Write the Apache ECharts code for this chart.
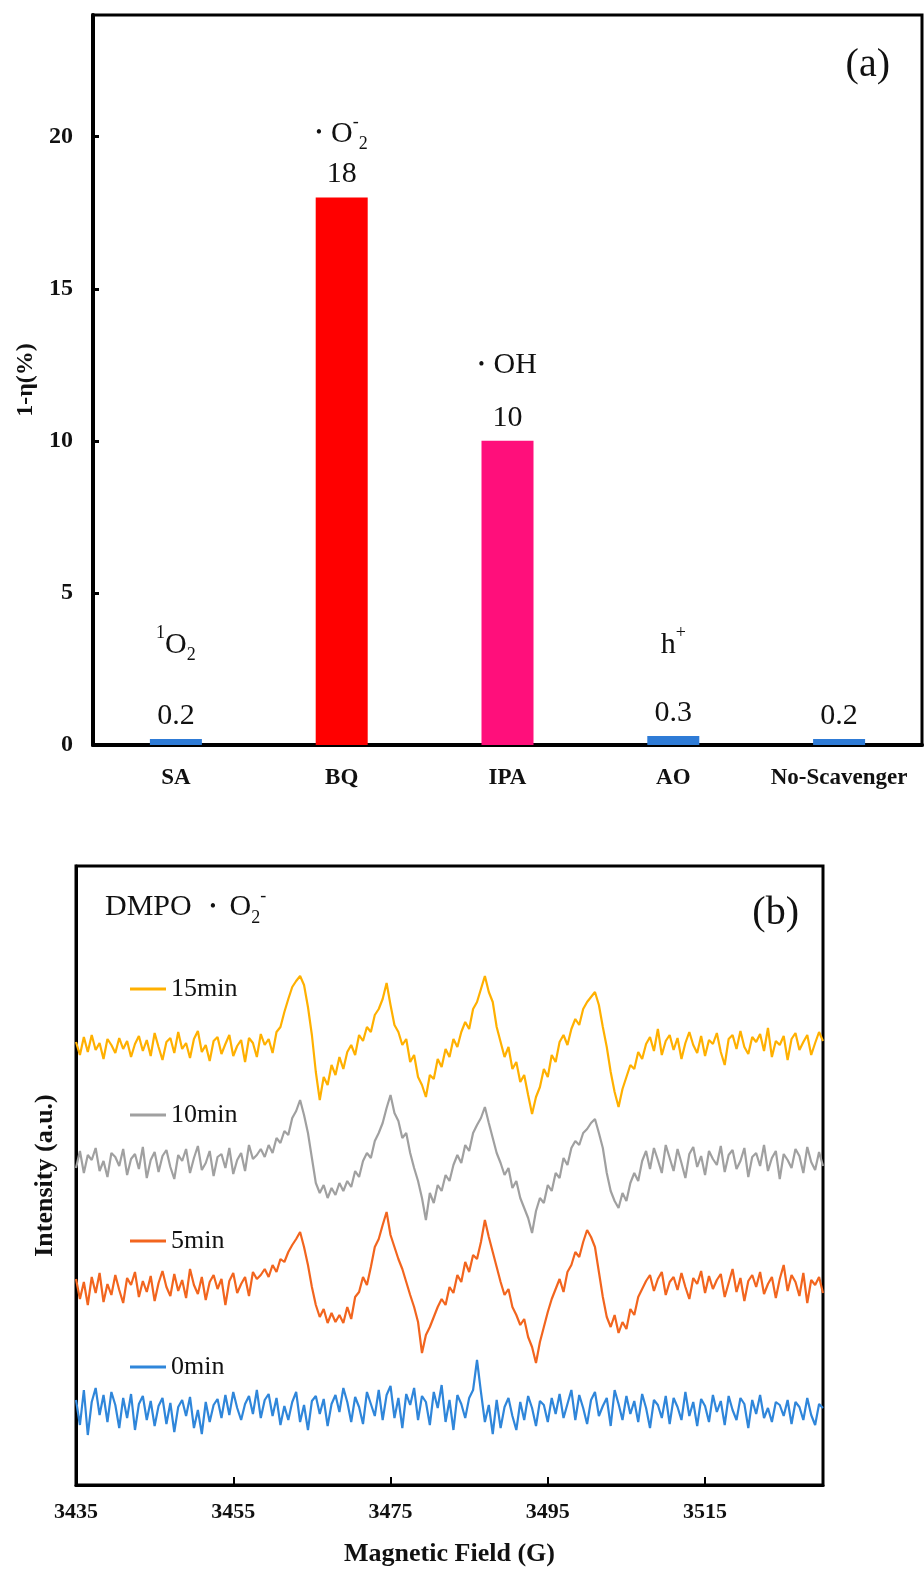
<!DOCTYPE html>
<html>
<head>
<meta charset="utf-8">
<title>Scavenger test and DMPO EPR</title>
<script src="https://cdn.jsdelivr.net/npm/echarts@6/dist/echarts.min.js"></script>
<style>
    html, body { margin: 0; padding: 0; background: #fff; }
    #chart { width: 924px; height: 1572px; }
</style>
</head>
<body>
<div id="chart"></div>
<script>
// (a) trapping experiment
const categories = ['SA', 'BQ', 'IPA', 'AO', 'No-Scavenger'];
const scavengerValues = [0.2, 18, 10, 0.3, 0.2];
const barColors = ['#2E7BD6', '#FF0000', '#FF0F7B', '#2E7BD6', '#2E7BD6'];
const speciesLabels = ['{sup|1}{m|O}{sub|2}', '{dot|•  }{m|O}{sup|-}{sub|2}', '{dot|•  }{m|OH}', '{m|h}{sup|+}'];
const speciesLabelY = [3.3, 20.1, 12.5, 3.3];
const yTicksA = [0, 5, 10, 15, 20];

// (b) EPR spectra, field axis in G (0.5 G step), intensities in arbitrary units
const fieldStart = 3435;
const fieldStep = 0.5;
const fieldTicks = [3435, 3455, 3475, 3495, 3515];
const traceNames = ['15min', '10min', '5min', '0min'];
const traceColors = ['#FFB000', '#A0A0A0', '#F2651E', '#2F86DA'];
const traceOffsets = [438, 322, 198, 75];

const trace15 = [
    5, -8, 10, -5, 12, -3, 4, -12, 8, 2,
    -6, 9, -2, 6, -10, 3, 11, -4, 7, -9,
    14, 0, -13, 5, 9, -6, 15, -2, 4, -11,
    8, 16, -5, 2, -14, 6, 10, -7, 3, 12,
    -9, 1, 7, -15, 9, 4, -10, 13,
    2, 8, -6, 15, 20, 35, 48, 60, 66, 71, 62, 40, 12, -25, -53, -30, -38, -18, -28, -10, -22, -5,
    2, -8, 12, 6, 20, 15, 32, 38, 48, 64, 42, 22, 15, 2, 8, -15, -8, -30, -38, -50,
    -28, -32, -12, -20, -2, -10, 8, 0, 15, 25, 18, 38, 45, 58, 71, 55, 45, 20, 5, -10,
    0, -22, -15, -35, -28, -48, -67, -50, -40, -22, -30, -8, -15, 5, 12, 2, 18, 28, 22, 38,
    45, 50, 55, 42, 20, 0, -25, -45, -60, -42, -30, -18, -22, -5, -12, 3,
    10, -4, 18, -8, 6, 12, -3, 9, -12, 4, 15, 2, -6, 11, -9,
    7, 3, 14, -5, -18, 8, 12, -2, 16, 0, -7, 10, 5, 13, -4,
    19, -10, 6, 2, 11, -13, 8, 14, -3, 5, 12, -8, 4, 15, 6
];

const trace10 = [
    -5, 12, -10, 8, 3, 15, -8, 2, -14, 10,
    6, -3, 14, -12, 4, 9, -6, 16, -15, 3,
    11, -9, 7, 13, -4, -16, 8, 2, 14, -10,
    5, 17, -7, 0, 12, -13, 6, 9, -5, 15,
    -11, 3, 10, -8, 18, 4, 8, 14,
    6, 18, 10, 25, 20, 32, 28, 45, 52, 63, 48, 30, 5, -20, -30, -22, -35, -25, -32, -20, -28, -18,
    -24, -8, -14, 2, 10, 5, 22, 30, 40, 55, 68, 50, 42, 25, 30, 10, -5, -18, -35, -57,
    -30, -40, -22, -28, -12, -18, -2, 8, 0, 18, 12, 30, 38, 45, 56, 40, 25, 10, 0, -12,
    -5, -25, -18, -35, -45, -55, -70, -48, -35, -40, -22, -28, -10, -15, 5, -2, 15, 22, 18, 30,
    34, 40, 44, 30, 15, -10, -28, -38, -45, -30, -38, -20, -10, -18, 2,
    12, -6, 15, 3, -10, 18, 5, -8, 14, 0,
    -15, 9, 16, -4, 7, -12, 12, 4, -2, 17,
    -9, 8, 13, -6, 2, 15, -14, 6, 10, -3,
    18, -8, 5, 12, -16, 9, 3, -5, 14, 7,
    -10, 16, 1, -7, 11, -3
];

const trace5 = [
    8, -12, 5, -18, 10, -6, 14, -15, 3, -8,
    12, -3, -16, 9, 2, 15, -10, 6, -5, 11,
    -14, 4, 16, 0, -9, 13, -4, 7, -11, 18,
    2, -7, 10, -13, 5, 12, -2, 8, -18, 6,
    14, -6, 3, 10, -9, 15, 8, 12,
    18, 10, 22, 15, 28, 25, 35, 42, 48, 55, 40, 22, 0, -18, -30, -22, -36, -26, -35, -28, -36, -20,
    -32, -10, -5, 10, 2, 20, 40, 48, 62, 75, 52, 40, 28, 18, 5, -8, -20, -35, -66, -48,
    -40, -30, -20, -12, -18, 0, -6, 12, 5, 25, 15, 32, 28, 45, 67, 50, 35, 20, 5, -8,
    -2, -20, -28, -38, -32, -50, -60, -76, -55, -40, -25, -12, -2, 8, -5, 15, 22, 35, 30, 45,
    57, 50, 40, 15, -10, -30, -40, -28, -46, -35, -42, -22, -28, -10, -2, 6,
    12, -4, 8, 15, -8, 5, 10, -3, 14, 0,
    -12, 9, 3, 16, -6, 11, -2, 7, 13, -10,
    4, 18, -5, 9, -14, 6, 12, 0, 15, -7,
    3, 10, -11, 8, 22, -4, 12, 5, -9, 14,
    -16, 7, 2, 10, -6
];

const trace0 = [
    10, -15, 20, -25, 8, 22, -5, 15, -12, 18,
    5, -18, 12, -8, 16, -20, 6, 14, -10, 9,
    -16, 4, 12, -14, 7, -22, 3, 10, -6, 13,
    -18, 0, -24, 8, -12, 5, 11, -8, 15, -5,
    18, 2, -10, 6, 14, -4, 20, -8, 10, 16,
    -6, 12, -15, 4, -10, 8, 18, -12, 5, -20,
    9, 14, -4, 11, -16, 6, 15, -2, 22, 8,
    -12, 13, 3, -14, 18, 6, -6, 20, -10, 15,
    24, -8, 12, -18, 16, 5, 22, -10, 14, 8,
    -15, 18, 2, 25, -12, 10, -20, 15, 6, -8,
    12, 20, 50, 18, -12, 5, -24, 10, -18, 3,
    12, -6, -20, 8, -10, 14, 2, -16, 9, 5,
    -12, 12, -4, 16, -8, 6, 20, -10, 15, 2,
    -14, 10, 18, -6, 4, 12, -16, 20, 6, -10,
    14, -4, 9, -12, 16, 2, -18, 10, 5, -8,
    14, -14, 12, 3, -10, 18, -6, 8, -16, 11,
    4, -12, 15, -2, 9, -15, 14, 0, -10, 12,
    6, -18, 10, -4, 15, -8, 2, -12, 8, 5,
    -6, 10, -14, 8, 3, -10, 12, -5, -15, 6, 2
];

const traces = [trace15, trace10, trace5, trace0];

document.addEventListener('DOMContentLoaded', function() {
    const chart = echarts.init(document.getElementById('chart'), null, { renderer: 'canvas' });
    const serif = '"Liberation Serif", "Times New Roman", serif';

    const richA = {
        m: { fontFamily: serif, fontSize: 30, fontWeight: 'normal', color: '#111', lineHeight: 40 },
        dot: { fontFamily: serif, fontSize: 18, fontWeight: 'normal', color: '#111', lineHeight: 40 },
        sup: { fontFamily: serif, fontSize: 18, fontWeight: 'normal', color: '#111', lineHeight: 18, verticalAlign: 'top' },
        sub: { fontFamily: serif, fontSize: 18, fontWeight: 'normal', color: '#111', lineHeight: 18, verticalAlign: 'bottom' }
    };

    const lineSeries = traces.map(function(trace, k) {
        return {
            name: traceNames[k],
            type: 'line',
            xAxisIndex: 1,
            yAxisIndex: 1,
            symbol: 'none',
            lineStyle: { width: 2.2, color: traceColors[k] },
            itemStyle: { color: traceColors[k] },
            data: trace.map(function(v, i) {
                return [fieldStart + i * fieldStep, traceOffsets[k] + v];
            })
        };
    });

    const option = {
        animation: false,
        backgroundColor: '#fff',
        textStyle: { fontFamily: serif },
        title: [
            {
                text: '(a)', right: 29, top: 40,
                textStyle: { fontFamily: serif, fontSize: 40, fontWeight: 'normal', color: '#111' }
            },
            {
                text: '(b)', right: 120, top: 888,
                textStyle: { fontFamily: serif, fontSize: 40, fontWeight: 'normal', color: '#111' }
            },
            {
                text: '{m|DMPO}{dot|    •   }{m|O}{sub|2}{sup|-}', left: 100, top: 882,
                textStyle: { fontWeight: 'normal', rich: richA }
            }
        ],
        legend: {
            data: traceNames,
            orient: 'vertical',
            left: 125,
            top: 971,
            itemGap: 100,
            itemWidth: 36,
            itemHeight: 3,
            icon: 'rect',
            selectedMode: false,
            textStyle: { fontFamily: serif, fontSize: 26, color: '#111', lineHeight: 24 }
        },
        grid: [
            { left: 93, right: 2, top: 15, height: 730, show: true, borderColor: '#000', borderWidth: 3 },
            { left: 76, right: 101, top: 866, height: 619, show: true, borderColor: '#000', borderWidth: 3 }
        ],
        xAxis: [
            {
                type: 'category',
                gridIndex: 0,
                data: categories,
                axisLine: { lineStyle: { color: '#000', width: 4 } },
                axisTick: { show: false },
                axisLabel: { interval: 0, fontFamily: serif, fontSize: 23, fontWeight: 'bold', color: '#111', margin: 22 }
            },
            {
                type: 'value',
                gridIndex: 1,
                min: fieldTicks[0],
                max: 3530,
                interval: fieldTicks[1] - fieldTicks[0],
                name: 'Magnetic Field (G)',
                nameLocation: 'middle',
                nameGap: 56,
                nameTextStyle: { fontFamily: serif, fontSize: 26, fontWeight: 'bold', color: '#111' },
                axisLine: { lineStyle: { color: '#000', width: 3 } },
                axisTick: { inside: true, length: 8, lineStyle: { color: '#000', width: 2 } },
                axisLabel: {
                    fontFamily: serif, fontSize: 22, fontWeight: 'bold', color: '#111', margin: 16,
                    showMaxLabel: false,
                    formatter: function(v) { return String(v); }
                },
                splitLine: { show: false }
            }
        ],
        yAxis: [
            {
                type: 'value',
                gridIndex: 0,
                min: yTicksA[0],
                max: 24,
                interval: yTicksA[1] - yTicksA[0],
                name: '1-η(%)',
                nameLocation: 'middle',
                nameGap: 51,
                nameTextStyle: { fontFamily: serif, fontSize: 24, fontWeight: 'bold', color: '#111' },
                axisLine: { show: true, lineStyle: { color: '#000', width: 4 } },
                axisTick: { show: true, inside: true, length: 6, lineStyle: { color: '#000', width: 3 } },
                axisLabel: { fontFamily: serif, fontSize: 24, fontWeight: 'bold', color: '#111', margin: 20, showMaxLabel: false },
                splitLine: { show: false }
            },
            {
                type: 'value',
                gridIndex: 1,
                min: 0,
                max: 619,
                name: 'Intensity (a.u.)',
                nameLocation: 'middle',
                nameGap: 18,
                nameTextStyle: { fontFamily: serif, fontSize: 26, fontWeight: 'bold', color: '#111' },
                axisLine: { show: true, lineStyle: { color: '#000', width: 3 } },
                axisTick: { show: false },
                axisLabel: { show: false },
                splitLine: { show: false }
            }
        ],
        series: [
            {
                type: 'bar',
                xAxisIndex: 0,
                yAxisIndex: 0,
                barWidth: 52,
                data: scavengerValues.map(function(v, i) {
                    return { value: v, itemStyle: { color: barColors[i] } };
                }),
                label: {
                    show: true,
                    position: 'top',
                    distance: 8,
                    fontFamily: serif,
                    fontSize: 30,
                    color: '#111'
                }
            },
            {
                type: 'scatter',
                xAxisIndex: 0,
                yAxisIndex: 0,
                symbolSize: 0,
                silent: true,
                data: speciesLabelY.map(function(y, i) { return [i, y]; }),
                label: {
                    show: true,
                    position: 'inside',
                    color: '#111',
                    textBorderWidth: 0,
                    opacity: 1,
                    formatter: function(p) { return speciesLabels[p.dataIndex]; },
                    rich: richA
                }
            }
        ].concat(lineSeries)
    };

    chart.setOption(option);
});
</script>
</body>
</html>
